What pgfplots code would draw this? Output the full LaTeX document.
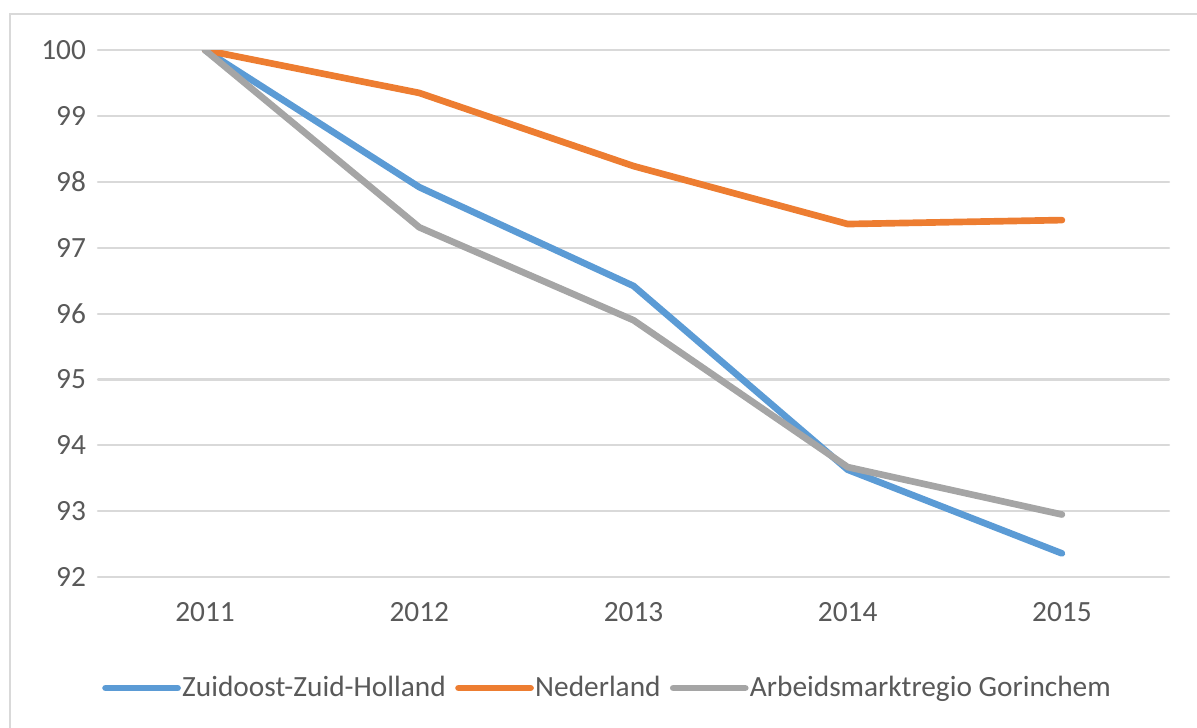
\documentclass[border=0pt]{standalone}
\usepackage{pgfplots}
\pgfplotsset{compat=1.18}
\usepackage{fontspec}
\setmainfont{Carlito}
\definecolor{cblue}{HTML}{5B9BD5}
\definecolor{corange}{HTML}{ED7D31}
\definecolor{cgray}{HTML}{A5A5A5}
\definecolor{ctext}{HTML}{595959}
\definecolor{cgrid}{HTML}{D9D9D9}
\begin{document}
\begin{tikzpicture}
\useasboundingbox (-36.75pt,-56.25pt) rectangle (412.1pt,216.4pt);
\draw[cgrid, line width=1pt] (-33pt,-70pt) rectangle (430pt,211.1pt);
\begin{axis}[
  at={(0,0)}, anchor=south west,
  scale only axis,
  width=401.6pt, height=197.6pt,
  xmin=-0.5, xmax=4.5, ymin=92, ymax=100,
  xtick={0,1,2,3,4},
  xticklabels={2011,2012,2013,2014,2015},
  ytick={92,93,94,95,96,97,98,99,100},
  ymajorgrids, grid style={cgrid, line width=0.8pt},
  axis line style={draw=none},
  major tick style={draw=none},
  tick label style={font=\fontsize{11}{13}\selectfont, text=ctext},
  /pgf/number format/assume math mode=true,
  xticklabel style={yshift=-6pt},
  yticklabel style={xshift=-1pt},
  legend style={at={(0.4754,-0.2105)}, anchor=center, draw=none, fill=none,
    legend columns=3, font=\fontsize{11}{13}\selectfont, text=ctext,
    /tikz/every even column/.append style={column sep=3pt},
    nodes={inner sep=0.5pt}},
  legend image code/.code={\draw[#1, line cap=round] (0pt,0pt) -- (27pt,0pt);},
  line cap=round, line join=round,
]
\addplot[cblue, line width=2.5pt] coordinates {(0,100) (1,97.92) (2,96.42) (3,93.63) (4,92.36)};
\addlegendentry{Zuidoost-Zuid-Holland}
\addplot[corange, line width=2.5pt] coordinates {(0,100) (1,99.35) (2,98.24) (3,97.36) (4,97.42)};
\addlegendentry{Nederland}
\addplot[cgray, line width=2.5pt] coordinates {(0,100) (1,97.31) (2,95.90) (3,93.67) (4,92.95)};
\addlegendentry{Arbeidsmarktregio Gorinchem}
\end{axis}
\end{tikzpicture}
\end{document}
